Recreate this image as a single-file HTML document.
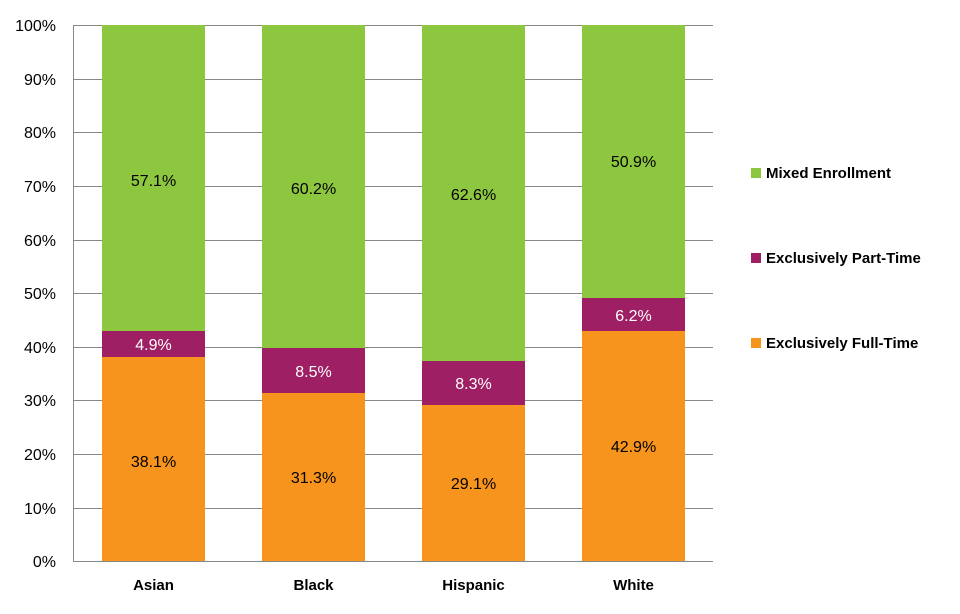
<!DOCTYPE html>
<html><head><style>body{margin:0;background:#fff}</style></head><body>
<svg width="960" height="609" xmlns="http://www.w3.org/2000/svg" font-family="Liberation Sans, sans-serif">
<g stroke="#888" stroke-width="1">
<line x1="73.5" y1="25.5" x2="713" y2="25.5"/><line x1="73.5" y1="79.5" x2="713" y2="79.5"/>
<line x1="73.5" y1="132.5" x2="713" y2="132.5"/><line x1="73.5" y1="186.5" x2="713" y2="186.5"/>
<line x1="73.5" y1="240.5" x2="713" y2="240.5"/><line x1="73.5" y1="293.5" x2="713" y2="293.5"/>
<line x1="73.5" y1="347.5" x2="713" y2="347.5"/><line x1="73.5" y1="400.5" x2="713" y2="400.5"/>
<line x1="73.5" y1="454.5" x2="713" y2="454.5"/><line x1="73.5" y1="508.5" x2="713" y2="508.5"/>
<line x1="73.5" y1="561.5" x2="713" y2="561.5"/><line x1="73.5" y1="25" x2="73.5" y2="562"/>
</g>
<g font-size="16" fill="#000" text-anchor="end">
<text x="56" y="31">100%</text><text x="56" y="85">90%</text><text x="56" y="138">80%</text>
<text x="56" y="192">70%</text><text x="56" y="246">60%</text><text x="56" y="299">50%</text>
<text x="56" y="353">40%</text><text x="56" y="406">30%</text><text x="56" y="460">20%</text>
<text x="56" y="514">10%</text><text x="56" y="567">0%</text>
</g>
<!-- Asian -->
<rect x="102" y="357" width="103" height="204" fill="#F7941D"/>
<rect x="102" y="331" width="103" height="26" fill="#9E1F63"/>
<rect x="102" y="25" width="103" height="306" fill="#8DC63F"/>
<!-- Black -->
<rect x="262" y="393" width="103" height="168" fill="#F7941D"/>
<rect x="262" y="348" width="103" height="45" fill="#9E1F63"/>
<rect x="262" y="25" width="103" height="323" fill="#8DC63F"/>
<!-- Hispanic -->
<rect x="422" y="405" width="103" height="156" fill="#F7941D"/>
<rect x="422" y="361" width="103" height="44" fill="#9E1F63"/>
<rect x="422" y="25" width="103" height="336" fill="#8DC63F"/>
<!-- White -->
<rect x="582" y="331" width="103" height="230" fill="#F7941D"/>
<rect x="582" y="298" width="103" height="33" fill="#9E1F63"/>
<rect x="582" y="25" width="103" height="273" fill="#8DC63F"/>
<g font-size="16" text-anchor="middle">
<text x="153.5" y="186">57.1%</text><text x="153.5" y="350" fill="#fff">4.9%</text><text x="153.5" y="467">38.1%</text>
<text x="313.5" y="194">60.2%</text><text x="313.5" y="377" fill="#fff">8.5%</text><text x="313.5" y="483">31.3%</text>
<text x="473.5" y="200">62.6%</text><text x="473.5" y="389" fill="#fff">8.3%</text><text x="473.5" y="489">29.1%</text>
<text x="633.5" y="167">50.9%</text><text x="633.5" y="321" fill="#fff">6.2%</text><text x="633.5" y="452">42.9%</text>
</g>
<g font-size="15" font-weight="bold" text-anchor="middle">
<text x="153.5" y="590">Asian</text><text x="313.5" y="590">Black</text>
<text x="473.5" y="590">Hispanic</text><text x="633.5" y="590">White</text>
</g>
<rect x="751" y="168" width="10" height="10" fill="#8DC63F"/>
<rect x="751" y="253" width="10" height="10" fill="#9E1F63"/>
<rect x="751" y="338" width="10" height="10" fill="#F7941D"/>
<g font-size="15" font-weight="bold">
<text x="766" y="178">Mixed Enrollment</text>
<text x="766" y="263">Exclusively Part-Time</text>
<text x="766" y="348">Exclusively Full-Time</text>
</g>
</svg>
</body></html>
